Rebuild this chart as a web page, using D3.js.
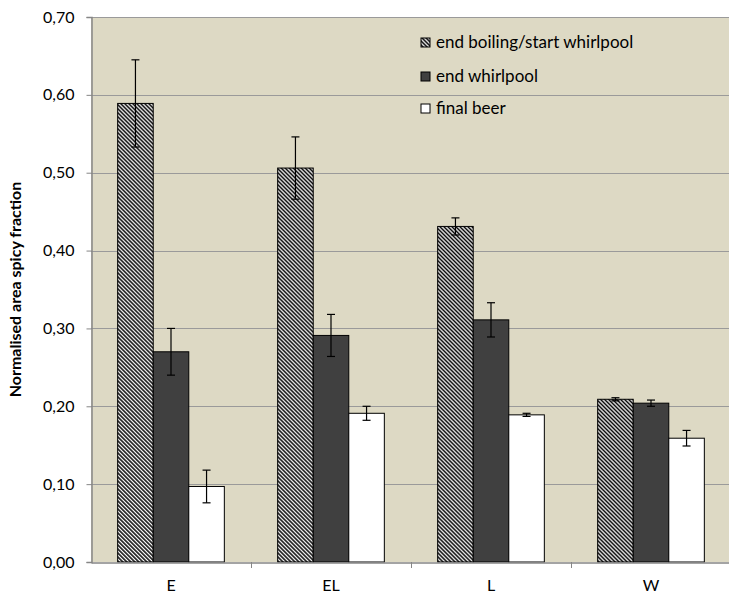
<!DOCTYPE html>
<html lang="en">
<head>
<meta charset="UTF-8" />
<title>Normalised area spicy fraction</title>
<style>
  body { margin: 0; background: #fff; }
  svg text { font-family: Lato, "Open Sans", sans-serif; fill: #000; }
</style>
</head>
<body>
<div id="chart"></div>
<script src="https://cdn.jsdelivr.net/npm/d3@7/dist/d3.min.js"></script>
<script>
// categories and series
var categories = ["E", "EL", "L", "W"];
var series = ["end boiling/start whirlpool", "end whirlpool", "final beer"];

// values per series (same order as categories)
var boilValues = [0.589, 0.506, 0.431, 0.209];
var whirlValues = [0.270, 0.291, 0.311, 0.204];
var beerValues = [0.097, 0.191, 0.189, 0.159];

// error bar half widths
var boilErr = [0.056, 0.040, 0.011, 0.002];
var whirlErr = [0.030, 0.027, 0.022, 0.004];
var beerErr = [0.021, 0.009, 0.002, 0.010];

var yTicks = [0, 0.1, 0.2, 0.3, 0.4, 0.5, 0.6, 0.7];

var w = 729, h = 593;
var pLeft = 91, pRight = 731, pTop = 17, pBottom = 562;
var fontSize = "16px";

var svg = d3.select("#chart").append("svg")
  .attr("width", w)
  .attr("height", h);

// hatch pattern: diagonal stripes going down to the right
var defs = svg.append("defs");
var pat = defs.append("pattern")
  .attr("id", "hatch")
  .attr("patternUnits", "userSpaceOnUse")
  .attr("width", 2.83)
  .attr("height", 10)
  .attr("patternTransform", "rotate(-45)");
pat.append("rect").attr("width", 2.83).attr("height", 10).attr("fill", "#fff");
pat.append("rect").attr("width", 1.5).attr("height", 10).attr("fill", "#000");

var xScale = d3.scaleBand().domain(categories).range([pLeft, pRight]);
var xInner = d3.scaleBand().domain(series).range([0, xScale.bandwidth()])
  .paddingInner(0).paddingOuter(0.75);
var yScale = d3.scaleLinear().domain([0, 0.7]).range([pBottom, pTop]);

// plot background
svg.append("rect")
  .attr("x", pLeft).attr("y", pTop)
  .attr("width", pRight - pLeft).attr("height", pBottom - pTop)
  .attr("fill", "#DDD9C4");

// grid lines
svg.selectAll("line.grid")
  .data(yTicks.slice(1))
  .enter().append("line")
  .attr("class", "grid")
  .attr("x1", pLeft).attr("x2", pRight)
  .attr("y1", function(d) { return Math.round(yScale(d)) + 0.5; })
  .attr("y2", function(d) { return Math.round(yScale(d)) + 0.5; })
  .attr("stroke", "#9a9a9a")
  .attr("stroke-width", 1.2);

var rows = [];
var allVals = [boilValues, whirlValues, beerValues];
var allErr = [boilErr, whirlErr, beerErr];
var fills = ["url(#hatch)", "#404040", "#ffffff"];
series.forEach(function(s, si) {
  categories.forEach(function(c, ci) {
    rows.push({cat: c, ser: s, si: si, v: allVals[si][ci], e: allErr[si][ci]});
  });
});

// bars
svg.selectAll("rect.bar")
  .data(rows)
  .enter().append("rect")
  .attr("class", "bar")
  .attr("x", function(d) { return xScale(d.cat) + xInner(d.ser); })
  .attr("y", function(d) { return yScale(d.v); })
  .attr("width", xInner.bandwidth())
  .attr("height", function(d) { return pBottom - yScale(d.v); })
  .attr("fill", function(d) { return fills[d.si]; })
  .attr("stroke", "#000")
  .attr("stroke-width", 1);

// error bars
var eb = svg.selectAll("g.err")
  .data(rows)
  .enter().append("g")
  .attr("class", "err")
  .attr("transform", function(d) {
    return "translate(" + (xScale(d.cat) + xInner(d.ser) + xInner.bandwidth() / 2) + ",0)";
  });
eb.append("line")
  .attr("x1", 0).attr("x2", 0)
  .attr("y1", function(d) { return yScale(d.v + d.e); })
  .attr("y2", function(d) { return yScale(d.v - d.e); })
  .attr("stroke", "#000").attr("stroke-width", 1.2);
eb.append("line")
  .attr("x1", -4).attr("x2", 4)
  .attr("y1", function(d) { return yScale(d.v + d.e); })
  .attr("y2", function(d) { return yScale(d.v + d.e); })
  .attr("stroke", "#000").attr("stroke-width", 1.2);
eb.append("line")
  .attr("x1", -4).attr("x2", 4)
  .attr("y1", function(d) { return yScale(d.v - d.e); })
  .attr("y2", function(d) { return yScale(d.v - d.e); })
  .attr("stroke", "#000").attr("stroke-width", 1.2);

// y axis
var yAxis = d3.axisLeft(yScale)
  .tickValues(yTicks)
  .tickSize(5)
  .tickPadding(12)
  .tickFormat(function(d) { return d3.format(".2f")(d).replace(".", ","); });
var gy = svg.append("g")
  .attr("transform", "translate(" + (pLeft + 0.5) + ",0)")
  .call(yAxis);
gy.select(".domain").attr("stroke", "#868686").attr("stroke-width", 1.5);
gy.selectAll(".tick line").attr("stroke", "#868686");
gy.selectAll("text").style("font-size", fontSize).style("font-family", "Lato, sans-serif");

// x axis
var xAxis = d3.axisBottom(xScale).tickSize(0).tickPadding(17);
var gx = svg.append("g")
  .attr("transform", "translate(0," + (pBottom + 0.5) + ")")
  .call(xAxis);
gx.select(".domain").attr("stroke", "#868686").attr("stroke-width", 1.5);
gx.selectAll("text").style("font-size", fontSize).style("font-family", "Lato, sans-serif");

// category separators
svg.selectAll("line.sep")
  .data(categories.slice(1))
  .enter().append("line")
  .attr("class", "sep")
  .attr("x1", function(d) { return Math.round(xScale(d)) + 0.5; })
  .attr("x2", function(d) { return Math.round(xScale(d)) + 0.5; })
  .attr("y1", pBottom).attr("y2", pBottom + 6)
  .attr("stroke", "#868686");

// y title
svg.append("text")
  .attr("transform", "translate(21," + ((pTop + pBottom) / 2) + ") rotate(-90)")
  .attr("text-anchor", "middle")
  .style("font-size", fontSize)
  .style("font-weight", "bold")
  .text("Normalised area spicy fraction");

// legend
var legend = svg.selectAll("g.leg")
  .data(series)
  .enter().append("g")
  .attr("class", "leg")
  .attr("transform", function(d, i) { return "translate(421," + [38, 72, 104][i] + ")"; });
legend.append("rect")
  .attr("width", 9).attr("height", 9)
  .attr("fill", function(d, i) { return fills[i]; })
  .attr("stroke", "#000");
legend.append("text")
  .attr("x", 15).attr("y", 10)
  .style("font-size", "17px")
  .text(function(d) { return d; });
</script>
</body>
</html>
